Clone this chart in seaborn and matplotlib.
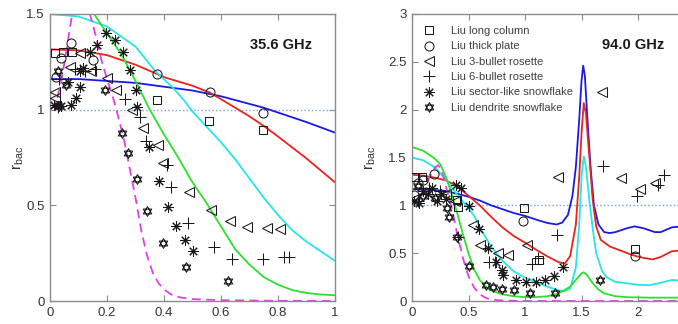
import numpy as np
import matplotlib
matplotlib.use("Agg")
import matplotlib.pyplot as plt
import matplotlib.path as mpath
import seaborn as sns

sns.set_style("ticks")
plt.rcParams['font.family'] = ['Liberation Sans', 'DejaVu Sans']
plt.rcParams['mathtext.fontset'] = 'custom'
plt.rcParams['mathtext.rm'] = 'Liberation Sans'
plt.rcParams['mathtext.it'] = 'Liberation Sans'

# ---------------- 35.6 GHz: model curves ----------------
l_blue_x = [0, 0.1, 0.2, 0.3, 0.4, 0.5, 0.6, 0.7, 0.75, 0.8, 0.9, 1.0]
l_blue_y = [1.16, 1.16, 1.15, 1.14, 1.12, 1.10, 1.07, 1.03, 1.01, 0.985, 0.935, 0.88]
l_red_x = [0, 0.1, 0.2, 0.3, 0.37, 0.4, 0.5, 0.56, 0.6, 0.7, 0.75, 0.8, 0.9, 1.0]
l_red_y = [1.315, 1.31, 1.285, 1.235, 1.19, 1.17, 1.125, 1.09, 1.055, 0.965, 0.915, 0.86, 0.745, 0.62]
l_cyan_x = [0, 0.1, 0.2, 0.3, 0.37, 0.43, 0.47, 0.5, 0.55, 0.6, 0.65, 0.7, 0.75, 0.8, 0.85, 0.9, 0.95, 1.0]
l_cyan_y = [1.5, 1.487, 1.435, 1.33, 1.2, 1.117, 1.05, 0.99, 0.91, 0.83, 0.74, 0.64, 0.54, 0.45, 0.37, 0.31, 0.26, 0.21]
l_green_x = [0, 0.05, 0.1, 0.15, 0.2, 0.25, 0.3, 0.35, 0.4, 0.45, 0.5, 0.55, 0.6, 0.65, 0.7, 0.75, 0.8, 0.85, 0.9, 0.95, 1.0]
l_green_y = [1.68, 1.66, 1.6, 1.51, 1.40, 1.29, 1.15, 1.0, 0.87, 0.75, 0.62, 0.51, 0.39, 0.27, 0.19, 0.125, 0.085, 0.057, 0.042, 0.034, 0.03]
l_mag_x = [0, 0.02, 0.04, 0.06, 0.08, 0.1, 0.12, 0.14, 0.16, 0.18, 0.2, 0.22, 0.24, 0.26, 0.28, 0.3, 0.32, 0.34,
           0.36, 0.38, 0.4, 0.43, 0.46, 0.5, 0.6, 0.8, 1.0]
l_mag_y = [1.0, 1.03, 1.15, 1.33, 1.52, 1.62, 1.62, 1.5, 1.39, 1.26, 1.16, 1.07, 0.96, 0.84, 0.69, 0.54, 0.37, 0.24,
           0.15, 0.095, 0.06, 0.03, 0.018, 0.01, 0.004, 0.001, 0.0]

# ---------------- 35.6 GHz: Liu particles ----------------
l_col_x = [0.016, 0.046, 0.077, 0.374, 0.559, 0.749]
l_col_y = [1.298, 1.303, 1.303, 1.052, 0.94, 0.895]
l_plate_x = [0.022, 0.04, 0.075, 0.151, 0.374, 0.561, 0.749]
l_plate_y = [1.17, 1.27, 1.347, 1.26, 1.185, 1.09, 0.98]
l_b3_x = [0.016, 0.016, 0.069, 0.104, 0.145, 0.2, 0.233, 0.287, 0.325, 0.38, 0.398, 0.487, 0.565, 0.632, 0.692, 0.76, 0.807]
l_b3_y = [1.094, 1.06, 1.225, 1.295, 1.2, 1.164, 1.103, 0.998, 0.903, 0.815, 0.72, 0.571, 0.473, 0.419, 0.389, 0.384, 0.378]
l_b6_x = [0.028, 0.03, 0.087, 0.122, 0.157, 0.262, 0.316, 0.337, 0.409, 0.425, 0.485, 0.577, 0.637, 0.746, 0.821, 0.837]
l_b6_y = [1.016, 1.16, 1.21, 1.2, 1.21, 1.054, 0.963, 0.838, 0.711, 0.594, 0.406, 0.284, 0.22, 0.218, 0.228, 0.228]
l_sec_x = [0.014, 0.028, 0.04, 0.075, 0.063, 0.092, 0.104, 0.105, 0.115, 0.139, 0.166, 0.198, 0.227, 0.255, 0.28,
           0.303, 0.304, 0.348, 0.384, 0.415, 0.441, 0.474, 0.5]
l_sec_y = [1.026, 1.02, 1.02, 1.025, 1.146, 1.06, 1.12, 1.2, 1.217, 1.303, 1.338, 1.4, 1.364, 1.303, 1.208,
           1.103, 1.016, 0.807, 0.629, 0.493, 0.392, 0.319, 0.263]
l_den_x = [0.028, 0.033, 0.057, 0.192, 0.251, 0.275, 0.304, 0.339, 0.395, 0.477, 0.626]
l_den_y = [1.2, 1.017, 1.13, 1.103, 0.876, 0.772, 0.636, 0.472, 0.305, 0.18, 0.106]

# ---------------- 94.0 GHz: model curves ----------------
r_blue_x = [0, 0.1, 0.2, 0.3, 0.4, 0.5, 0.6, 0.7, 0.8, 0.9, 1.0, 1.1, 1.2, 1.28, 1.33, 1.38, 1.42, 1.45, 1.48,
            1.5, 1.515, 1.53, 1.55, 1.58, 1.61, 1.65, 1.7, 1.75, 1.8, 1.9, 1.97, 2.05, 2.15, 2.2, 2.3, 2.4]
r_blue_y = [1.17, 1.165, 1.16, 1.15, 1.12, 1.09, 1.05, 1.0, 0.96, 0.92, 0.89, 0.85, 0.815, 0.80, 0.82, 0.9, 1.1, 1.4, 1.9,
            2.3, 2.46, 2.35, 1.95, 1.4, 1.0, 0.8, 0.72, 0.71, 0.72, 0.76, 0.78, 0.76, 0.72, 0.72, 0.77, 0.78]
r_red_x = [0, 0.1, 0.2, 0.3, 0.4, 0.5, 0.6, 0.7, 0.8, 0.9, 1.0, 1.1, 1.2, 1.3, 1.35, 1.4, 1.45, 1.48, 1.5, 1.52,
           1.54, 1.57, 1.6, 1.63, 1.67, 1.75, 1.84, 1.95, 2.05, 2.13, 2.2, 2.3, 2.4]
r_red_y = [1.32, 1.31, 1.29, 1.26, 1.2, 1.1, 1.0, 0.88, 0.77, 0.68, 0.61, 0.535, 0.465, 0.405, 0.39, 0.47, 0.8, 1.3,
           1.75, 2.07, 1.95, 1.5, 1.05, 0.78, 0.64, 0.57, 0.53, 0.48, 0.45, 0.435, 0.46, 0.52, 0.53]
r_cyan_x = [0, 0.1, 0.2, 0.3, 0.4, 0.5, 0.55, 0.6, 0.7, 0.8, 0.9, 1.0, 1.1, 1.2, 1.3, 1.35, 1.4, 1.45, 1.48, 1.5,
            1.52, 1.54, 1.57, 1.6, 1.63, 1.68, 1.72, 1.8, 1.9, 2.0, 2.1, 2.2, 2.3, 2.4]
r_cyan_y = [1.5, 1.47, 1.40, 1.27, 1.11, 0.97, 0.89, 0.77, 0.57, 0.42, 0.31, 0.245, 0.195, 0.15, 0.11, 0.105, 0.13,
            0.35, 0.8, 1.3, 1.51, 1.4, 1.05, 0.75, 0.5, 0.32, 0.25, 0.2, 0.185, 0.17, 0.165, 0.19, 0.22, 0.21]
r_green_x = [0, 0.1, 0.2, 0.25, 0.3, 0.35, 0.4, 0.45, 0.5, 0.55, 0.6, 0.65, 0.7, 0.8, 0.9, 1.0, 1.1, 1.2, 1.3, 1.4,
             1.45, 1.5, 1.52, 1.55, 1.6, 1.65, 1.7, 1.8, 1.9, 2.1, 2.4]
r_green_y = [1.61, 1.57, 1.49, 1.43, 1.30, 1.12, 0.92, 0.70, 0.50, 0.33, 0.22, 0.155, 0.11, 0.07, 0.05, 0.04, 0.04,
             0.05, 0.08, 0.15, 0.22, 0.29, 0.30, 0.27, 0.185, 0.12, 0.08, 0.05, 0.04, 0.035, 0.035]
r_mag_x = [0, 0.05, 0.1, 0.15, 0.2, 0.23, 0.26, 0.3, 0.35, 0.4, 0.45, 0.5, 0.55, 0.6, 0.65, 0.7, 0.8, 1.0, 2.4]
r_mag_y = [1.0, 1.03, 1.12, 1.28, 1.39, 1.42, 1.38, 1.2, 0.98, 0.7, 0.45, 0.26, 0.14, 0.07, 0.035, 0.015, 0.005, 0.0, 0.0]

# ---------------- 94.0 GHz: Liu particles ----------------
r_col_x = [0.03, 0.086, 0.395, 0.41, 0.99, 1.12, 1.97]
r_col_y = [1.3, 1.3, 1.056, 0.986, 0.97, 0.43, 0.54]
r_plate_x = [0.02, 0.056, 0.1, 0.195, 0.985, 1.97]
r_plate_y = [1.11, 1.23, 1.265, 1.327, 0.836, 0.47]
r_b3_x = [0.02, 0.3, 0.38, 0.543, 0.6, 0.764, 0.852, 1.02, 1.295, 1.679, 1.847, 2.018, 2.15]
r_b3_y = [1.07, 1.12, 1.05, 0.794, 0.585, 0.5, 0.48, 0.585, 1.30, 2.188, 1.283, 1.167, 1.23]
r_b6_x = [0.05, 0.15, 0.25, 0.41, 0.684, 0.735, 1.06, 1.118, 1.28, 1.693, 1.988, 2.18, 2.23]
r_b6_y = [1.05, 1.18, 1.15, 0.672, 0.411, 0.41, 0.383, 0.446, 0.69, 1.414, 1.10, 1.21, 1.317]
r_sec_x = [0.02, 0.06, 0.1, 0.14, 0.18, 0.22, 0.26, 0.3, 0.39, 0.43, 0.507, 0.596, 0.67, 0.743, 0.80, 0.808, 0.92,
           1.01, 1.10, 1.177, 1.26, 1.333]
r_sec_y = [1.05, 1.02, 1.15, 1.12, 1.18, 1.05, 1.12, 1.07, 1.21, 1.18, 0.997, 0.753, 0.557, 0.411, 0.324, 0.272, 0.22,
           0.2, 0.2, 0.22, 0.265, 0.36]
r_den_x = [0.05, 0.1, 0.2, 0.307, 0.33, 0.395, 0.507, 0.655, 0.714, 0.80, 0.90, 1.04, 1.265, 1.664]
r_den_y = [1.2, 1.1, 1.08, 0.97, 0.88, 0.67, 0.37, 0.167, 0.15, 0.125, 0.115, 0.087, 0.08, 0.22]

labels = ['Liu long column', 'Liu thick plate', 'Liu 3-bullet rosette',
          'Liu 6-bullet rosette', 'Liu sector-like snowflake', 'Liu dendrite snowflake']

# star of David marker (two overlapping triangles)
ang_up = np.deg2rad([90, 210, 330])
ang_dn = np.deg2rad([270, 30, 150])
hex_verts = ([(np.cos(a), np.sin(a)) for a in ang_up] + [(0, 0)] +
             [(np.cos(a), np.sin(a)) for a in ang_dn] + [(0, 0)])
C = mpath.Path
hex_codes = [C.MOVETO, C.LINETO, C.LINETO, C.CLOSEPOLY] * 2
hexagram = mpath.Path(hex_verts, hex_codes)

markers = ['s', 'o', '<', '+', (8, 2, 0), hexagram]
msizes = [5.5, 6.5, 6.5, 8, 7.5, 7]

curve_colors = ['#1a1ae6', '#e8231c', '#25e5e8', '#2ee02e']
mag_color = '#e040e6'
spine_col = '0.55'
text_col = '0.2'

fig = plt.figure(figsize=(6.78, 3.24), dpi=100)
ax1 = fig.add_axes([50 / 678, 23 / 324, 285 / 678, 287 / 324])
ax2 = fig.add_axes([412 / 678, 23 / 324, 2.5 * 113 / 678, 287 / 324])


def draw_panel(ax, curves, mag, pts):
    ax.axhline(1, ls=':', color='#6fa4d8', lw=1.0, zorder=1)
    for (cx, cy), col in zip(curves, curve_colors):
        sns.lineplot(x=cx, y=cy, color=col, lw=1.3, ax=ax, estimator=None, sort=False, zorder=2)
    sns.lineplot(x=mag[0], y=mag[1], color=mag_color, lw=1.3, ax=ax, estimator=None,
                 sort=False, dashes=False, zorder=2).lines[-1].set_dashes((5, 3))
    for (px, py), mk, ms, lab in zip(pts, markers, msizes, labels):
        ax.plot(px, py, ls='none', marker=mk, ms=ms, mfc='none', mec='0.1', mew=0.75,
                label=lab, zorder=3)
    for s in ax.spines.values():
        s.set_color(spine_col)
        s.set_linewidth(1.0)
    ax.tick_params(direction='in', top=True, right=True, length=4, width=0.8,
                   color=spine_col, labelsize=9.5, labelcolor=text_col, pad=4)
    ax.set_ylabel(r'$\mathregular{r_{bac}}$', fontsize=11, color=text_col)


draw_panel(ax1,
           [(l_blue_x, l_blue_y), (l_red_x, l_red_y), (l_cyan_x, l_cyan_y), (l_green_x, l_green_y)],
           (l_mag_x, l_mag_y),
           [(l_col_x, l_col_y), (l_plate_x, l_plate_y), (l_b3_x, l_b3_y),
            (l_b6_x, l_b6_y), (l_sec_x, l_sec_y), (l_den_x, l_den_y)])
ax1.set_xlim(0, 1)
ax1.set_ylim(0, 1.5)
ax1.set_xticks([0, 0.2, 0.4, 0.6, 0.8, 1])
ax1.set_xticklabels(['0', '0.2', '0.4', '0.6', '0.8', '1'])
ax1.set_yticks([0, 0.5, 1, 1.5])
ax1.set_yticklabels(['0', '0.5', '1', '1.5'])
ax1.yaxis.set_label_coords(-0.085, 0.5)
ax1.text(0.81, 1.34, '35.6 GHz', fontsize=10.5, fontweight='bold', color='0.1',
         ha='center', va='center')

draw_panel(ax2,
           [(r_blue_x, r_blue_y), (r_red_x, r_red_y), (r_cyan_x, r_cyan_y), (r_green_x, r_green_y)],
           (r_mag_x, r_mag_y),
           [(r_col_x, r_col_y), (r_plate_x, r_plate_y), (r_b3_x, r_b3_y),
            (r_b6_x, r_b6_y), (r_sec_x, r_sec_y), (r_den_x, r_den_y)])
ax2.set_xlim(0, 2.5)
ax2.set_ylim(0, 3)
ax2.set_xticks([0, 0.5, 1, 1.5, 2])
ax2.set_xticklabels(['0', '0.5', '1', '1.5', '2'])
ax2.set_yticks([0, 0.5, 1, 1.5, 2, 2.5, 3])
ax2.set_yticklabels(['0', '0.5', '1', '1.5', '2', '2.5', '3'])
ax2.yaxis.set_label_coords(-0.12, 0.5)
ax2.text(1.96, 2.68, '94.0 GHz', fontsize=10.5, fontweight='bold', color='0.1',
         ha='center', va='center')

handles, labs = ax2.get_legend_handles_labels()
leg = ax2.legend(handles, labs, loc='upper left', bbox_to_anchor=(0.01, 0.985), frameon=False,
                 fontsize=8, handlelength=1.2, handletextpad=1.4, labelspacing=0.48,
                 borderaxespad=0.3, numpoints=1)
for t in leg.get_texts():
    t.set_color('0.25')

fig.savefig('out.png', dpi=100)
